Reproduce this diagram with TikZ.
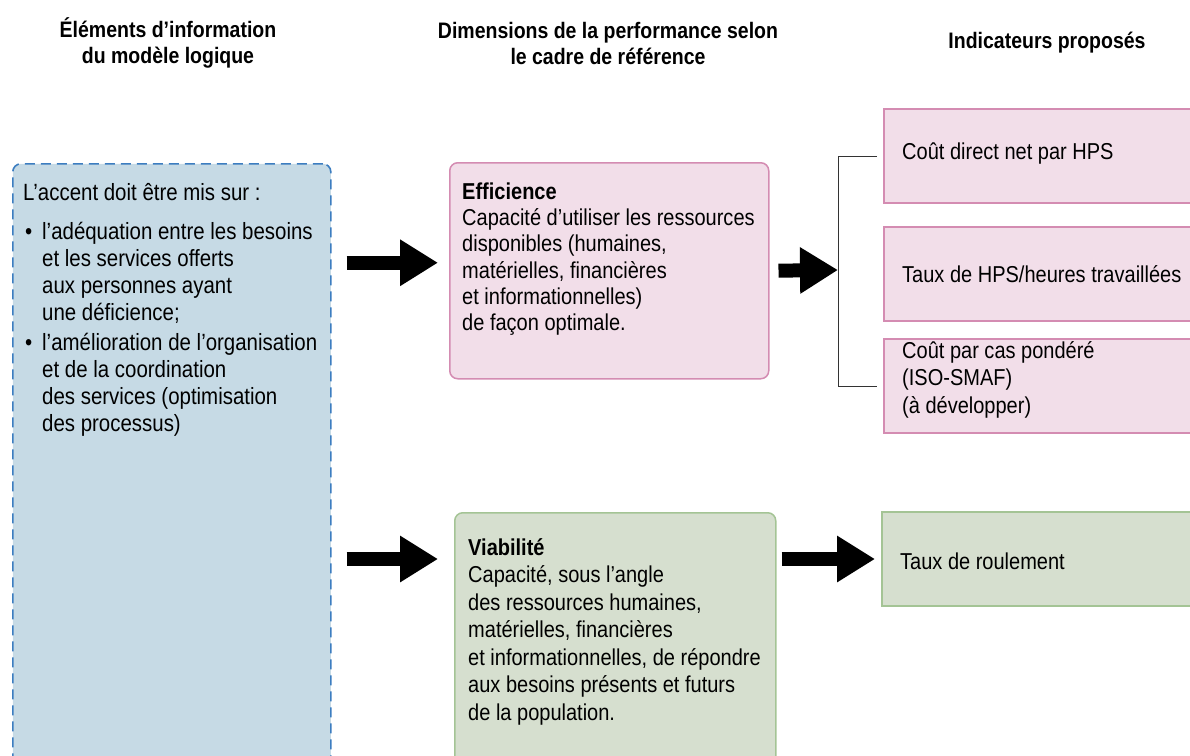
\documentclass[tikz,border=0pt]{standalone}
\usepackage{fontspec}
\setmainfont{Liberation Sans}[FakeStretch=0.87]
\usetikzlibrary{arrows.meta,positioning}
\definecolor{bluefill}{HTML}{C6DAE5}
\definecolor{blueline}{HTML}{3C7DC0}
\definecolor{pinkfill}{HTML}{F2DEE9}
\definecolor{pinkline}{HTML}{D48CB2}
\definecolor{greenfill}{HTML}{D6DFCF}
\definecolor{greenline}{HTML}{A4C495}
\tikzset{
	heading/.style={font=\fontsize{22.4}{26}\selectfont\bfseries, align=center},
	body/.style={font=\fontsize{23}{26.3}\selectfont, align=left, inner sep=0pt},
	dimbox/.style={rounded corners=8pt, line width=1.5pt, inner sep=0pt, anchor=north west},
	indbox/.style={line width=2pt, inner sep=0pt, minimum width=340pt, minimum height=94pt, anchor=north west},
	bigarrow/.style={line width=14pt, -{Triangle[length=38pt,width=44pt]}},
	bracket/.style={draw=black!80, line width=0.8pt},
}
\newcommand\topstrut{\rule{0pt}{19pt}}
\newcommand\listbul{\makebox[19pt][l]{\hspace{2pt}•}}
\newcommand\listind{\hspace*{19pt}}

\begin{document}
\begin{tikzpicture}[x=1pt,y=-1pt]
	\useasboundingbox (0,0) rectangle (1190,755);
	\clip (0,0) rectangle (1190,755);

	% column headings
	\node[heading] (head1) at (168,43) {Éléments d’information\\du modèle logique};
	\node[heading] (head2) at (608,43) {Dimensions de la performance selon\\le cadre de référence};
	\node[heading] (head3) at (1047,43) {Indicateurs proposés};

	% left column
	\node[draw=blueline, fill=bluefill, line width=1.6pt, dash pattern=on 10pt off 6pt,
		rounded corners=8pt, minimum width=318pt, minimum height=640pt, anchor=north west] (elements) at (12,163) {};
	\node[body, font=\fontsize{23.5}{27}\selectfont, anchor=north west] (elemtxt) at (23,181) {\topstrut L’accent doit être mis sur :\\[12pt]
		\listbul l’adéquation entre les besoins\\
		\listind et les services offerts\\
		\listind aux personnes ayant\\
		\listind une déficience;\\[3pt]
		\listbul l’amélioration de l’organisation\\
		\listind et de la coordination\\
		\listind des services (optimisation\\
		\listind des processus)};

	% dimensions
	\node[dimbox, draw=pinkline, fill=pinkfill, minimum width=319pt, minimum height=216pt] (efficience) at (449,162) {};
	\node[body, anchor=north west] (efftxt) at (462,180) {\topstrut\textbf{Efficience}\\
		Capacité d’utiliser les ressources\\
		disponibles (humaines,\\
		matérielles, financières\\
		et informationnelles)\\
		de façon optimale.};

	\node[dimbox, draw=greenline, fill=greenfill, minimum width=321pt, minimum height=300pt] (viabilite) at (454,512) {};
	\node[body, font=\fontsize{23}{27.5}\selectfont, anchor=north west] (viatxt) at (468,536) {\topstrut\textbf{Viabilité}\\
		Capacité, sous l’angle\\
		des ressources humaines,\\
		matérielles, financières\\
		et informationnelles, de répondre\\
		aux besoins présents et futurs\\
		de la population.};

	% indicators
	\node[indbox, draw=pinkline, fill=pinkfill] (ind1) at (883,108) {};
	\node[indbox, draw=pinkline, fill=pinkfill] (ind2) at (883,226) {};
	\node[indbox, draw=pinkline, fill=pinkfill] (ind3) at (883,338) {};
	\node[indbox, draw=greenline, fill=greenfill] (ind4) at (881,511) {};

	\node[body, anchor=west] (ind1txt) at ([xshift=19pt,yshift=2pt]ind1.west) {Coût direct net par HPS};
	\node[body, anchor=west] (ind2txt) at ([xshift=19pt]ind2.west) {Taux de HPS/heures travaillées};
	\node[body, font=\fontsize{23}{27.5}\selectfont, anchor=north west] (ind3txt) at (902,339) {\topstrut Coût par cas pondéré\\(ISO-SMAF)\\(à développer)};
	\node[body, anchor=west] (ind4txt) at ([xshift=19pt,yshift=-2pt]ind4.west) {Taux de roulement};

	% bracket
	\coordinate (brk) at (838,270);
	\draw[bracket] ([xshift=-6pt]ind1.west) -| (brk) |- ([xshift=-6pt]ind3.west);

	% arrows
	\draw[bigarrow, shorten <=15pt, shorten >=11pt] ([yshift=8pt]elements.east |- efficience.west) -- ([yshift=8pt]efficience.west);
	\draw[bigarrow, shorten <=15pt, shorten >=16pt] (elements.east |- ind4.west) -- (viabilite.west |- ind4.west);
	\draw[bigarrow, shorten <=9pt] (efficience.east) -- (brk);
	\draw[bigarrow, shorten <=5pt, shorten >=6pt] (viabilite.east |- ind4.west) -- (ind4.west);
\end{tikzpicture}
\end{document}
